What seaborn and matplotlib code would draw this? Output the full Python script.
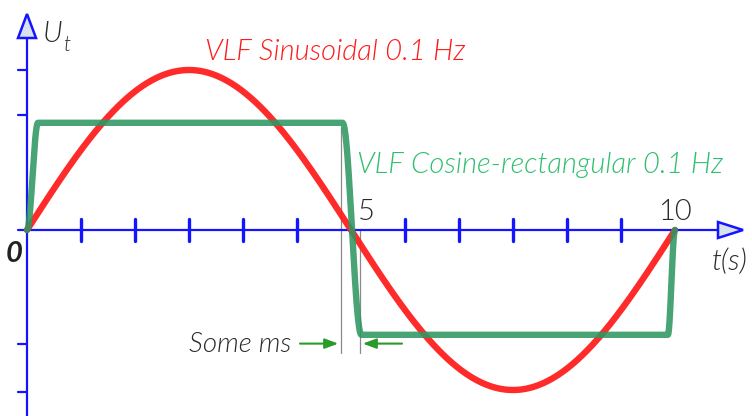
import numpy as np
import pandas as pd
import seaborn as sns
import matplotlib.pyplot as plt
from matplotlib.patches import Polygon

# --- waveform definitions -------------------------------------------------
frequency_hz = 0.1          # VLF test frequency
sine_amplitude = 1.0
period_s = 1.0 / frequency_hz

# cosine-rectangular wave: knot times (s) and levels, cosine-shaped edges
rect_knot_t = [0.0, 0.17, 4.87, 5.16, 9.89, 10.0]
rect_knot_v = [0.0, 0.67, 0.67, -0.655, -0.655, 0.0]

# axis tick positions
x_tick_values = [5/6, 10/6, 15/6, 20/6, 25/6, 35/6, 40/6, 45/6, 50/6, 55/6]
x_tick_labels = {5: "5", 10: "10"}
y_tick_values = [1.0, 0.72, -0.71, -1.01]

# "Some ms" edge markers
edge_lines_t = [4.846, 5.139]

# --- build curves -----------------------------------------------------------
t_sine = np.linspace(0, period_s, 400)
sine_df = pd.DataFrame({"t": t_sine,
                        "u": sine_amplitude * np.sin(2 * np.pi * frequency_hz * t_sine)})

rect_t, rect_v = [], []
for t0, t1, v0, v1 in zip(rect_knot_t[:-1], rect_knot_t[1:], rect_knot_v[:-1], rect_knot_v[1:]):
    s = np.linspace(0, 1, 40)
    ease = (1 - np.cos(np.pi * s)) / 2
    rect_t.extend(t0 + (t1 - t0) * s)
    rect_v.extend(v0 + (v1 - v0) * ease)
rect_df = pd.DataFrame({"t": rect_t, "u": rect_v})

# --- figure -----------------------------------------------------------------
sns.set_style("white")
plt.rcParams["font.family"] = ["Lato", "DejaVu Sans"]

fig = plt.figure(figsize=(7.52, 4.16), dpi=100)
ax = fig.add_axes([0, 0, 1, 1])
px_x = 64.8   # pixels per second
px_y = 160.0  # pixels per unit
ax.set_xlim(-27 / px_x, (752 - 27) / px_x)
ax.set_ylim(-186 / px_y, 230 / px_y)
ax.axis("off")

blue = "#1414ff"
red = "#ff1e1e"
green = "#2f9662"
txt = "#2a2a2a"
LW = 300  # light text weight

# axes lines
ax.plot([-9 / px_x, 700 / px_x], [0, 0], color=blue, lw=1.6, zorder=2)
ax.plot([0, 0], [-190 / px_y, 195 / px_y], color=blue, lw=1.6, zorder=2)
# arrow heads
ax.add_patch(Polygon([[691 / px_x, 8 / px_y], [716 / px_x, 0], [691 / px_x, -8 / px_y]],
                     closed=True, facecolor="#d9e1ee", edgecolor=blue, lw=1.8, zorder=3))
ax.add_patch(Polygon([[-9 / px_x, 192 / px_y], [0, 216 / px_y], [9 / px_x, 192 / px_y]],
                     closed=True, facecolor="#d9e1ee", edgecolor=blue, lw=1.8, zorder=3))

# ticks
for xv in x_tick_values:
    ax.plot([xv, xv], [-11 / px_y, 11 / px_y], color=blue, lw=2.4, zorder=2)
for yv in y_tick_values:
    ax.plot([-9 / px_x, 0], [yv, yv], color=blue, lw=1.6, zorder=2)

# edge marker lines
ax.plot([edge_lines_t[0]] * 2, [0.64, -0.77], color="#8a8a8a", lw=0.9, zorder=1)
ax.plot([edge_lines_t[1]] * 2, [0.0, -0.77], color="#8a8a8a", lw=0.9, zorder=1)

# waveforms
sns.lineplot(data=sine_df, x="t", y="u", ax=ax, color=red, lw=4.6, alpha=0.95,
             sort=False, solid_capstyle="round", zorder=4)
sns.lineplot(data=rect_df, x="t", y="u", ax=ax, color=green, lw=4.6, alpha=0.88,
             sort=False, solid_capstyle="round", solid_joinstyle="round", zorder=5)

# "Some ms" arrows
arrow_kw = dict(arrowstyle="-|>,head_length=0.8,head_width=0.3", color="#2a9a2a", lw=1.5)
ax.annotate("", xy=(edge_lines_t[0], -0.71), xytext=(4.17, -0.71), arrowprops=arrow_kw, zorder=6)
ax.annotate("", xy=(edge_lines_t[1], -0.71), xytext=(5.83, -0.71), arrowprops=arrow_kw, zorder=6)
ax.text(4.08, -0.715, "Some ms", ha="right", va="center", fontsize=20, style="italic",
        fontweight=LW, color=txt, zorder=6)

# labels
ax.text(2.74, 1.11, "VLF Sinusoidal 0.1 Hz", ha="left", va="center", fontsize=21,
        style="italic", fontweight=LW, color="#ff1a1a")
ax.text(5.10, 0.405, "VLF Cosine-rectangular 0.1 Hz", ha="left", va="center", fontsize=21,
        style="italic", fontweight=LW, color="#2fbf6f")
ax.text(-0.07, -0.15, "0", ha="right", va="center", fontsize=21, style="italic",
        fontweight="bold", color="#222222")
ax.text(5.24, 0.11, "5", ha="center", va="center", fontsize=21, fontweight=LW, color=txt)
ax.text(10.0, 0.11, "10", ha="center", va="center", fontsize=21, fontweight=LW, color=txt)
ax.text(10.85, -0.2, "t(s)", ha="center", va="center", fontsize=21, style="italic",
        fontweight=LW, color=txt)
# U with subscript t
ax.text(0.24, 1.225, "U", ha="left", va="center", fontsize=21, style="italic",
        fontweight=LW, color=txt)
ax.text(0.55, 1.155, "t", ha="left", va="center", fontsize=15, style="italic",
        fontweight=LW, color=txt)

fig.savefig("out.png", dpi=100)
